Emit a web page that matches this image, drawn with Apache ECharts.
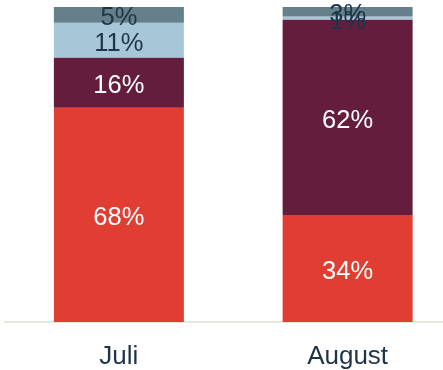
<!DOCTYPE html>
<html>
<head>
<meta charset="utf-8">
<script src="https://cdn.jsdelivr.net/npm/echarts@6/dist/echarts.min.js"></script>
<style>
  html, body { margin: 0; padding: 0; background: #fff; overflow: hidden; }
  /* the plot runs a little past the right edge of the window */
  #chart { width: 462px; height: 370px; }
</style>
</head>
<body>
<div id="chart"></div>
<script>
// Monthly shares, stacked bottom to top
const categories = ['Juli', 'August'];
const seriesNames = ['A', 'B', 'C', 'D'];
const valuesA = [68, 34];
const valuesB = [16, 62];
const valuesC = [11, 1];
const valuesD = [5, 3];

const colors = ['#e03e33', '#641d3d', '#a7c6d7', '#65808a'];
const labelColors = ['#ffffff', '#ffffff', '#1d3449', '#1d3449'];
const allValues = [valuesA, valuesB, valuesC, valuesD];

const chart = echarts.init(document.getElementById('chart'));
chart.setOption({
  animation: false,
  grid: { left: 4.5, right: 0, top: 7, bottom: 48 },
  xAxis: {
    type: 'category',
    data: categories,
    axisLine: { lineStyle: { color: '#e2ded3', width: 1.5 } },
    axisTick: { show: false },
    axisLabel: {
      color: '#1d3449',
      fontFamily: 'Liberation Sans, Arial, sans-serif',
      fontSize: 26,
      margin: 22
    }
  },
  yAxis: {
    type: 'value',
    min: 0,
    max: 100,
    show: false,
    splitLine: { show: false }
  },
  series: allValues.map((vals, i) => ({
    name: seriesNames[i],
    type: 'bar',
    stack: 'total',
    barWidth: 130,
    data: vals,
    itemStyle: { color: colors[i] },
    label: {
      show: true,
      position: 'inside',
      offset: [0, 3.5],
      formatter: p => p.value + '%',
      color: labelColors[i],
      fontFamily: 'Liberation Sans, Arial, sans-serif',
      fontSize: 25.5,
      textBorderWidth: 0
    }
  }))
});
</script>
</body>
</html>
